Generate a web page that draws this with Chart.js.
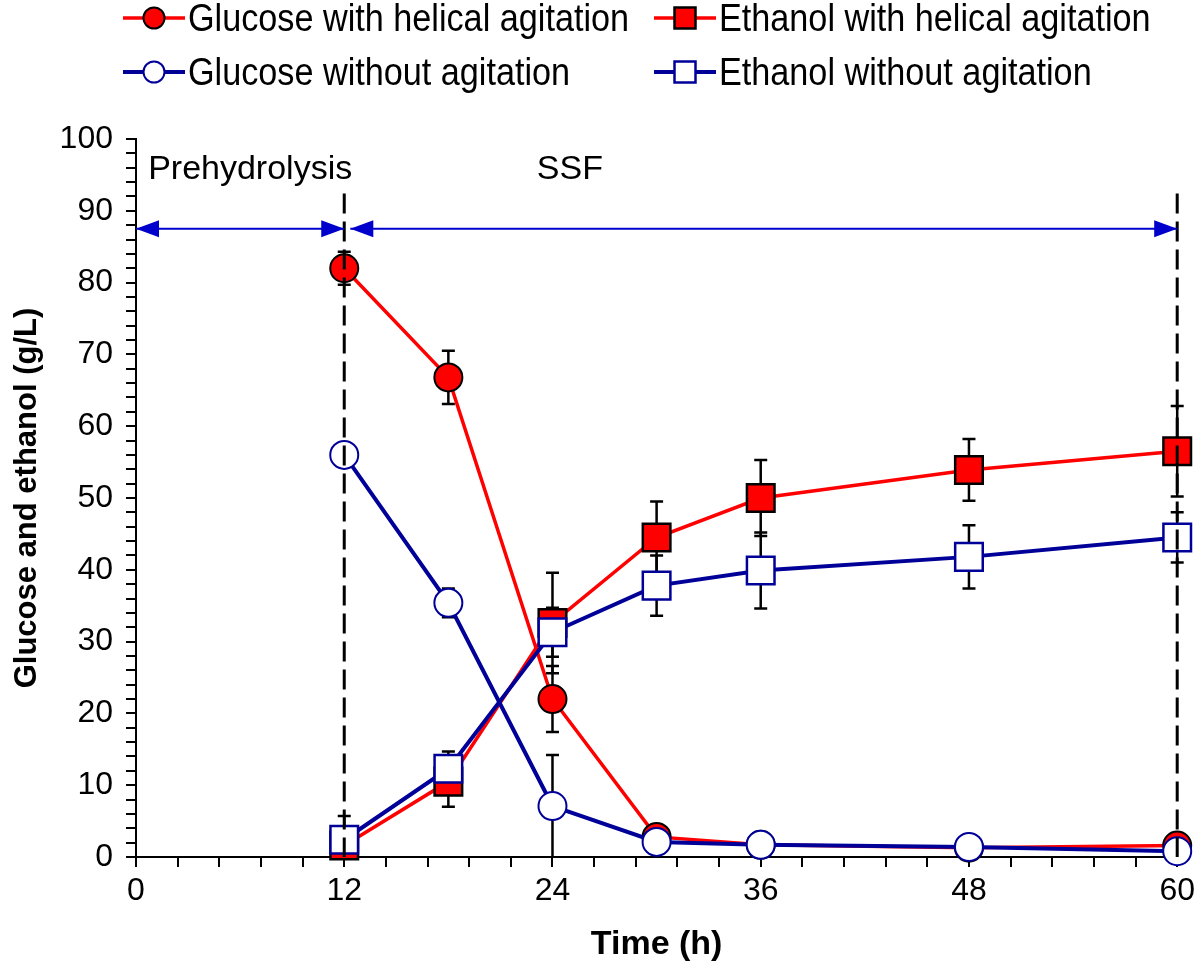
<!DOCTYPE html>
<html>
<head>
<meta charset="utf-8">
<script src="https://cdn.jsdelivr.net/npm/chart.js@4.4.0/dist/chart.umd.min.js"></script>
<style>
  body { margin: 0; background: #fff; }
  #wrap { position: relative; width: 1200px; height: 970px; }
  #legend { position: absolute; left: 0; top: 0; width: 1200px; height: 100px; font-family: 'Liberation Sans', Arial, sans-serif; }
  .item { position: absolute; height: 40px; display: flex; align-items: center; }
  .item svg { margin-right: 3px; }
  .item span { font-size: 38px; display: inline-block; transform: scaleX(0.9); transform-origin: left center; white-space: nowrap; color: #000; }
</style>
</head>
<body>
<div id="wrap">
  <canvas id="myChart" width="1200" height="970"></canvas>
  <div id="legend"></div>
</div>
<script>
// data
const times = [12, 18, 24, 30, 36, 48, 60];
const glucoseHelical    = [82.0, 66.8, 22.0, 2.8, 1.7, 1.3, 1.6];
const glucoseHelicalErr = [2.3, 3.7, 4.6, 0.5, 0.3, 0.3, 0.4];
const ethanolHelical    = [1.6, 10.5, 32.6, 44.5, 50.0, 53.9, 56.5];
const ethanolHelicalErr = [1.0, 3.5, 7.0, 5.0, 5.3, 4.3, 6.3];
const glucoseStatic     = [56.0, 35.4, 7.1, 2.1, 1.7, 1.4, 0.8];
const glucoseStaticErr  = [1.0, 2.0, 7.1, 0.4, 0.3, 0.3, 0.3];
const ethanolStatic     = [2.4, 12.3, 31.3, 37.8, 39.9, 41.8, 44.5];
const ethanolStaticErr  = [3.3, 2.4, 3.4, 4.2, 5.3, 4.4, 3.5];

// phases (prehydrolysis / SSF)
const phaseLines = [12, 60];
const phaseLineTop = 92.4;
const arrowLevel = 87.5;
const phases = [
  { label: 'Prehydrolysis', from: 0, to: 12, textX: 0.7, align: 'left' },
  { label: 'SSF', from: 12.35, to: 60, textX: 25, align: 'center' }
];
const phaseTextLevel = 95.8;

const RED = '#ff0000';
const NAVY = '#000099';
const ARROW = '#0000cc';
const FONT = "'Liberation Sans', Arial, sans-serif";

function pts(ys) {
  return times.map((t, i) => ({ x: t, y: ys[i] }));
}

const series = [
  { label: 'Glucose with helical agitation', data: glucoseHelical, err: glucoseHelicalErr, color: RED, fill: RED, edge: '#000', style: 'circle', width: 3.5, order: 4 },
  { label: 'Ethanol with helical agitation', data: ethanolHelical, err: ethanolHelicalErr, color: RED, fill: RED, edge: '#000', style: 'rect', width: 3.5, order: 3 },
  { label: 'Glucose without agitation', data: glucoseStatic, err: glucoseStaticErr, color: NAVY, fill: '#fff', edge: NAVY, style: 'circle', width: 4, order: 2 },
  { label: 'Ethanol without agitation', data: ethanolStatic, err: ethanolStaticErr, color: NAVY, fill: '#fff', edge: NAVY, style: 'rect', width: 4, order: 1 }
];

// html legend, two columns
const legendPos = [[123, -2], [654, -2], [123, 52], [654, 52]];
const legendEl = document.getElementById('legend');
series.forEach((s, i) => {
  const div = document.createElement('div');
  div.className = 'item';
  div.style.left = legendPos[i][0] + 'px';
  div.style.top = legendPos[i][1] + 'px';
  let marker = s.style === 'circle'
    ? `<circle cx="31" cy="20" r="10.5" fill="${s.fill}" stroke="${s.edge}" stroke-width="2"/>`
    : `<rect x="20.5" y="9.5" width="21" height="21" fill="${s.fill}" stroke="${s.edge}" stroke-width="2.5"/>`;
  div.innerHTML = `<svg width="62" height="40"><line x1="0" y1="20" x2="62" y2="20" stroke="${s.color}" stroke-width="${s.width}"/>${marker}</svg><span>${s.label}</span>`;
  legendEl.appendChild(div);
});

// error bars under the markers
const errorBars = {
  id: 'errorBars',
  beforeDatasetsDraw(chart) {
    const ctx = chart.ctx;
    const xs = chart.scales.x, ys = chart.scales.y;
    ctx.save();
    ctx.strokeStyle = '#000';
    ctx.lineWidth = 2.5;
    chart.data.datasets.forEach(ds => {
      ds.data.forEach((p, i) => {
        const e = ds.errors[i];
        const x = xs.getPixelForValue(p.x);
        const y1 = ys.getPixelForValue(Math.min(p.y + e, 100));
        const y2 = ys.getPixelForValue(Math.max(p.y - e, 0));
        ctx.beginPath();
        ctx.moveTo(x, y1); ctx.lineTo(x, y2);
        ctx.moveTo(x - 6.5, y1); ctx.lineTo(x + 6.5, y1);
        if (p.y - e > 0) { ctx.moveTo(x - 6.5, y2); ctx.lineTo(x + 6.5, y2); }
        ctx.stroke();
      });
    });
    ctx.restore();
  }
};

// dashed phase lines, arrows and phase names
const phaseMarks = {
  id: 'phaseMarks',
  afterDatasetsDraw(chart) {
    const ctx = chart.ctx;
    const xs = chart.scales.x, ys = chart.scales.y;
    ctx.save();
    ctx.strokeStyle = '#000';
    ctx.lineWidth = 3;
    ctx.setLineDash([20, 8]);
    phaseLines.forEach(v => {
      const x = xs.getPixelForValue(v);
      ctx.beginPath();
      ctx.moveTo(x, ys.getPixelForValue(phaseLineTop));
      ctx.lineTo(x, ys.getPixelForValue(0));
      ctx.stroke();
    });
    ctx.setLineDash([]);

    const ay = ys.getPixelForValue(arrowLevel);
    ctx.strokeStyle = ARROW;
    ctx.fillStyle = ARROW;
    ctx.lineWidth = 2;
    const head = (x, dir) => {
      ctx.beginPath();
      ctx.moveTo(x, ay);
      ctx.lineTo(x + dir * 23, ay - 8.5);
      ctx.lineTo(x + dir * 23, ay + 8.5);
      ctx.closePath();
      ctx.fill();
    };
    phases.forEach(ph => {
      const x1 = xs.getPixelForValue(ph.from);
      const x2 = xs.getPixelForValue(ph.to);
      ctx.beginPath();
      ctx.moveTo(x1, ay); ctx.lineTo(x2, ay);
      ctx.stroke();
      head(x1, 1);
      head(x2, -1);
    });

    ctx.fillStyle = '#000';
    ctx.font = '34px ' + FONT;
    ctx.textBaseline = 'middle';
    phases.forEach(ph => {
      ctx.textAlign = ph.align;
      ctx.fillText(ph.label, xs.getPixelForValue(ph.textX), ys.getPixelForValue(phaseTextLevel));
    });
    ctx.restore();
  }
};

const ctx = document.getElementById('myChart').getContext('2d');
const myChart = new Chart(ctx, {
  type: 'line',
  data: {
    datasets: series.map(s => ({
      label: s.label,
      data: pts(s.data),
      errors: s.err,
      borderColor: s.color,
      borderWidth: s.width,
      pointStyle: s.style,
      pointRadius: s.style === 'rect' ? 19.5 : 14,
      pointHoverRadius: s.style === 'rect' ? 19.5 : 14,
      pointBackgroundColor: s.fill,
      pointBorderColor: s.edge,
      pointBorderWidth: s.style === 'rect' ? 2.5 : 2,
      order: s.order,
      clip: false,
      tension: 0
    }))
  },
  options: {
    responsive: false,
    animation: false,
    layout: { padding: { top: 139, right: 18, left: 0, bottom: 0 } },
    plugins: {
      legend: { display: false },
      tooltip: { enabled: false }
    },
    scales: {
      x: {
        type: 'linear',
        min: 0,
        max: 60,
        afterFit: function(scale) { scale.height = 113; },
        grid: { display: true, drawOnChartArea: false, drawTicks: true, tickLength: 10, color: '#000', lineWidth: 2 },
        border: { display: true, color: '#000', width: 2 },
        ticks: {
          stepSize: 2.4,
          autoSkip: false,
          maxRotation: 0,
          padding: 5,
          color: '#000',
          font: { family: FONT, size: 32 },
          callback: function(v) {
            const k = v / 12;
            return Math.abs(k - Math.round(k)) < 1e-6 ? String(Math.round(v)) : '';
          }
        },
        title: { display: true, text: 'Time (h)', color: '#000', font: { family: FONT, size: 34, weight: 'bold' }, padding: { bottom: 5 } }
      },
      y: {
        min: 0,
        max: 100,
        afterFit: function(scale) { scale.width = 136; },
        grid: { display: true, drawOnChartArea: false, drawTicks: true, tickLength: 10, color: '#000', lineWidth: 2 },
        border: { display: true, color: '#000', width: 2 },
        ticks: {
          stepSize: 2,
          autoSkip: false,
          padding: 13,
          color: '#000',
          font: { family: FONT, size: 32 },
          callback: function(v) {
            return v % 10 === 0 ? String(v) : '';
          }
        },
        title: { display: true, text: 'Glucose and ethanol (g/L)', color: '#000', font: { family: FONT, size: 31, weight: 'bold' }, padding: { top: 9 } }
      }
    }
  },
  plugins: [errorBars, phaseMarks]
});
</script>
</body>
</html>
